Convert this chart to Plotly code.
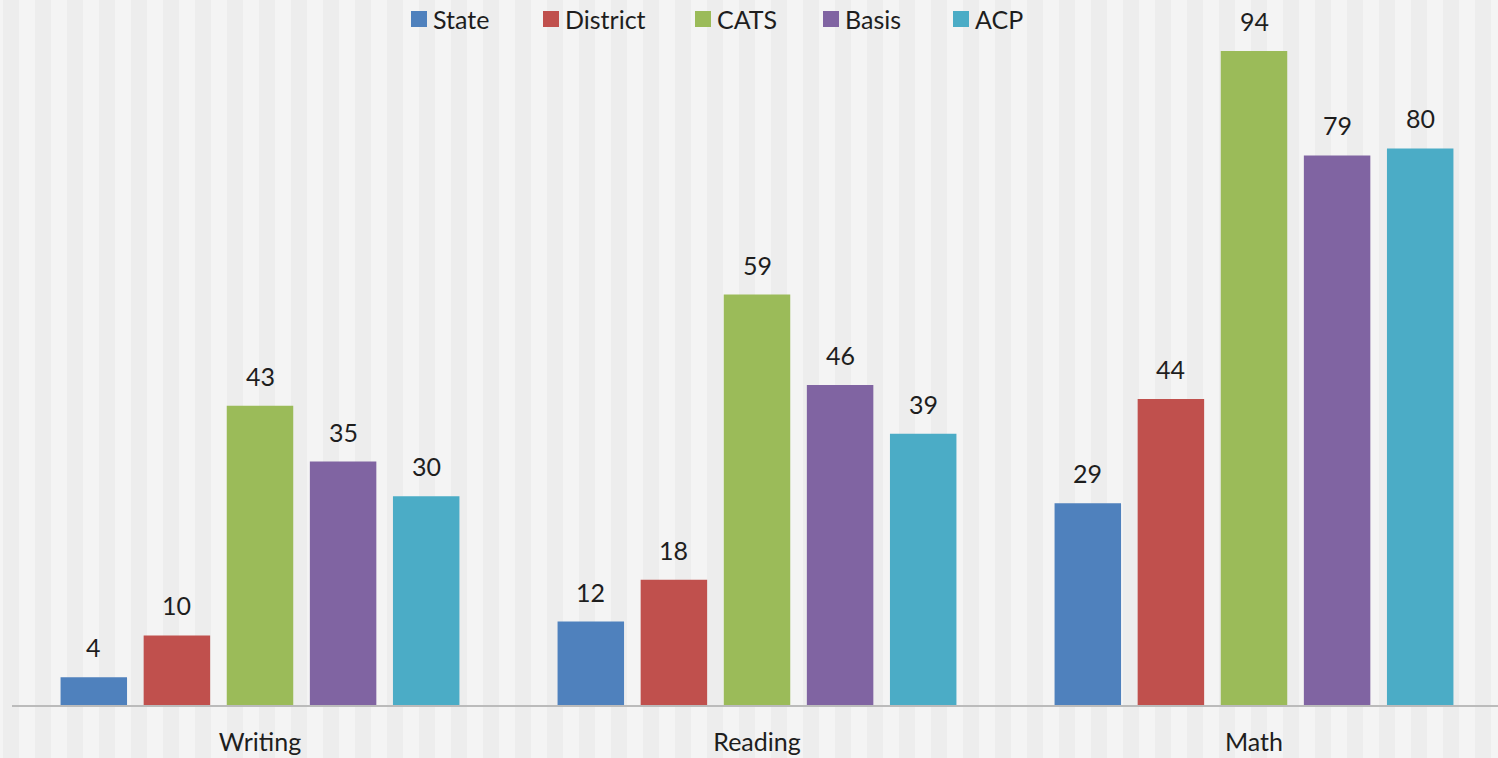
import plotly.graph_objects as go

categories = ["Writing", "Reading", "Math"]
series_names = ["State", "District", "CATS", "Basis", "ACP"]
state = [4, 12, 29]
district = [10, 18, 44]
cats = [43, 59, 94]
basis = [35, 46, 79]
acp = [30, 39, 80]
colors = ["#4F81BD", "#C0504D", "#9BBB59", "#8064A2", "#4BACC6"]

W, H = 1498, 758
L, R, T, B = 12, 0, 10, 53
FONT = "Lato"
FS = 25
TXT = "#1e1e1e"
BARGAP, GROUPGAP = 0.164, 0.2
CAT_PX = 497.0           # pixel width of one category band
FIRST_CENTER_PX = 260.0  # pixel x of first category centre

pw = W - L - R
ph = H - T - B
x_lo = -(FIRST_CENTER_PX - L) / CAT_PX
x_hi = x_lo + pw / CAT_PX
slot = CAT_PX * (1 - BARGAP) / len(series_names)


def px_x(p):
    return (p - L) / pw


def px_y(p):
    return (H - B - p) / ph


# legend layout (pixels): swatch left edges, swatch size, row centre
legend_swatch_px = [411, 543, 695, 823, 953]
SW = 16
LEG_CY = 19

fig = go.Figure()
annotations = []
shapes = []

# background stripes (decoration)
x = 3
while x < W:
    shapes.append(dict(type="rect", xref="paper", yref="paper",
                       x0=px_x(x), x1=px_x(x + 16), y0=-1, y1=2,
                       fillcolor="#EDEDED", line=dict(width=0), layer="below"))
    x += 32

all_vals = [state, district, cats, basis, acp]
for i, (name, vals, c) in enumerate(zip(series_names, all_vals, colors)):
    fig.add_trace(go.Bar(
        name=name, x=categories, y=vals, marker=dict(color=c, line=dict(width=0)),
        showlegend=False, hoverinfo="x+y+name",
    ))
    for cat, v in zip(categories, vals):
        annotations.append(dict(x=cat, y=v, xref="x", yref="y", text=str(v),
                                showarrow=False, yanchor="bottom",
                                xshift=(i - 2) * slot, yshift=13,
                                font=dict(size=FS, family=FONT, color=TXT)))
    # legend swatch + label
    sx = legend_swatch_px[i]
    shapes.append(dict(type="rect", xref="paper", yref="paper",
                       x0=px_x(sx), x1=px_x(sx + SW),
                       y0=px_y(LEG_CY + SW / 2), y1=px_y(LEG_CY - SW / 2),
                       fillcolor=c, line=dict(width=0), layer="above"))
    annotations.append(dict(x=px_x(sx + SW + 4), y=px_y(LEG_CY), xref="paper", yref="paper",
                            text=name, showarrow=False, xanchor="left", yanchor="middle",
                            font=dict(size=FS, family=FONT, color=TXT)))

fig.update_layout(
    width=W, height=H,
    margin=dict(l=L, r=R, t=T, b=B),
    paper_bgcolor="#F4F4F4", plot_bgcolor="rgba(0,0,0,0)",
    barmode="group", bargap=BARGAP, bargroupgap=GROUPGAP,
    font=dict(family=FONT, size=FS, color=TXT),
    shapes=shapes, annotations=annotations,
    showlegend=False,
    xaxis=dict(range=[x_lo, x_hi], showline=True, linecolor="#BBBBBB", linewidth=2, ticks="",
               tickfont=dict(size=FS, family=FONT, color=TXT), showgrid=False,
               ticklabelstandoff=14),
    yaxis=dict(range=[0, 99.9], visible=False, showgrid=False, zeroline=False),
)

fig.write_html("out.html", config={"displayModeBar": False},
               post_script="document.body.style.margin='0';")
